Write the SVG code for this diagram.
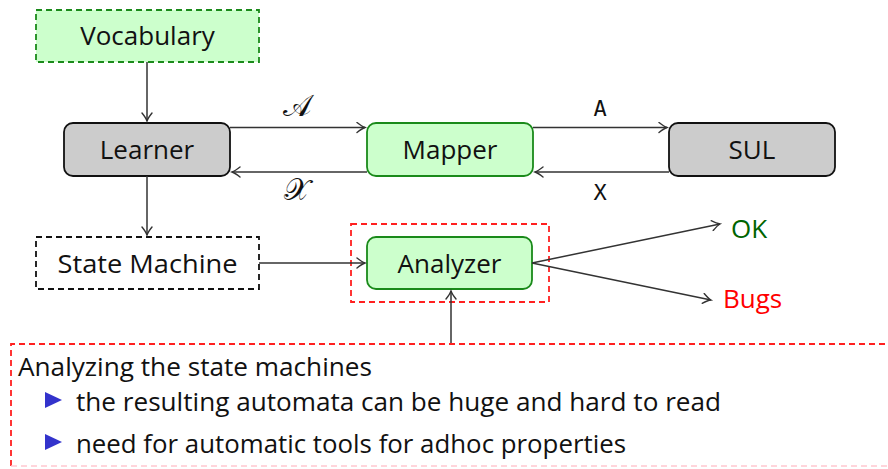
<svg xmlns="http://www.w3.org/2000/svg" width="888" height="469" viewBox="0 0 888 469">
  <defs>
    <marker id="to" viewBox="-10 -6 12 12" refX="0" refY="0" markerWidth="12" markerHeight="12" markerUnits="userSpaceOnUse" orient="auto">
      <path d="M-8,-5 Q-3,-1 0,0 Q-3,1 -8,5" fill="none" stroke="#333" stroke-width="1.4" stroke-linecap="round"/>
    </marker>
  </defs>
  <style>
    text { font-family: "Open Sans", "DejaVu Sans", sans-serif; fill: #111; }
    .lbl { font-size: 26px; text-anchor: middle; }
    .body { font-size: 26px; }
    .green { fill: #ccffcc; stroke: #1a8a1a; stroke-width: 1.8; }
    .gray { fill: #cccccc; stroke: #111; stroke-width: 1.8; }
    .edge { fill: none; stroke: #333; stroke-width: 1.5; marker-end: url(#to); }
    .math { font-family: "DejaVu Serif", serif; font-size: 30px; text-anchor: middle; }
    .mono { font-family: "DejaVu Sans Mono", "Liberation Mono", monospace; font-size: 22px; text-anchor: middle; }
  </style>
  <rect width="888" height="469" fill="#fff"/>

  <g id="vocabulary">
    <rect x="36" y="10" width="223" height="52" fill="#ccffcc" stroke="#1a8a1a" stroke-width="1.8" stroke-dasharray="6,4"/>
    <text class="lbl" x="147.5" y="45">Vocabulary</text>
  </g>
  <g id="learner">
    <rect class="gray" x="64" y="123" width="166" height="53" rx="9"/>
    <text class="lbl" x="147" y="159">Learner</text>
  </g>
  <g id="mapper">
    <rect class="green" x="367" y="123" width="166" height="53" rx="9"/>
    <text class="lbl" x="450" y="159">Mapper</text>
  </g>
  <g id="sul">
    <rect class="gray" x="669" y="123" width="166" height="53" rx="9"/>
    <text class="lbl" x="752" y="159">SUL</text>
  </g>
  <g id="state-machine">
    <rect x="36" y="237" width="223" height="52" fill="none" stroke="#111" stroke-width="1.8" stroke-dasharray="6,4"/>
    <text class="lbl" x="147.5" y="273" textLength="180" lengthAdjust="spacingAndGlyphs">State Machine</text>
  </g>
  <g id="analyzer">
    <rect x="351" y="224" width="198" height="78" fill="none" stroke="#ff2020" stroke-width="1.8" stroke-dasharray="6,4"/>
    <rect class="green" x="367" y="237" width="165" height="52" rx="9"/>
    <text class="lbl" x="449.5" y="273">Analyzer</text>
  </g>
  <g id="ok">
    <text x="731" y="238" style="font-size:26px;fill:#006400">OK</text>
  </g>
  <g id="bugs">
    <text x="723" y="308" style="font-size:26px;fill:#ff0000">Bugs</text>
  </g>

  <g id="connectors">
    <path class="edge" d="M147,62 V121"/>
    <path class="edge" d="M147,176 V235"/>
    <path class="edge" d="M230,127.5 H365"/>
    <path class="edge" d="M367,172 H232"/>
    <path class="edge" d="M533,127.5 H667"/>
    <path class="edge" d="M669,172 H535"/>
    <path class="edge" d="M259,263 H365"/>
    <path class="edge" d="M532,263 L720,224"/>
    <path class="edge" d="M532,263 L711,300"/>
    <path class="edge" d="M451,344 V291"/>
    <text class="math" x="297" y="116">𝒜</text>
    <text class="math" x="297" y="200">𝒳</text>
    <text class="mono" x="600" y="116">A</text>
    <text class="mono" x="600" y="200">X</text>
  </g>

  <g id="notes">
    <path d="M11,466 V344 H888" fill="none" stroke="#ff2020" stroke-width="1.8" stroke-dasharray="6,4"/>
    <path d="M11,466 H888" fill="none" stroke="#ffc8d0" stroke-width="1.5" stroke-dasharray="6,4"/>
    <text class="body" x="18" y="376" textLength="354" lengthAdjust="spacingAndGlyphs">Analyzing the state machines</text>
    <path d="M45,392 L62,400 L45,408 Z" fill="#3333cc"/>
    <text class="body" x="76" y="411" textLength="645" lengthAdjust="spacingAndGlyphs">the resulting automata can be huge and hard to read</text>
    <path d="M45,434 L62,442 L45,450 Z" fill="#3333cc"/>
    <text class="body" x="76" y="453" textLength="550" lengthAdjust="spacingAndGlyphs">need for automatic tools for adhoc properties</text>
  </g>
</svg>
